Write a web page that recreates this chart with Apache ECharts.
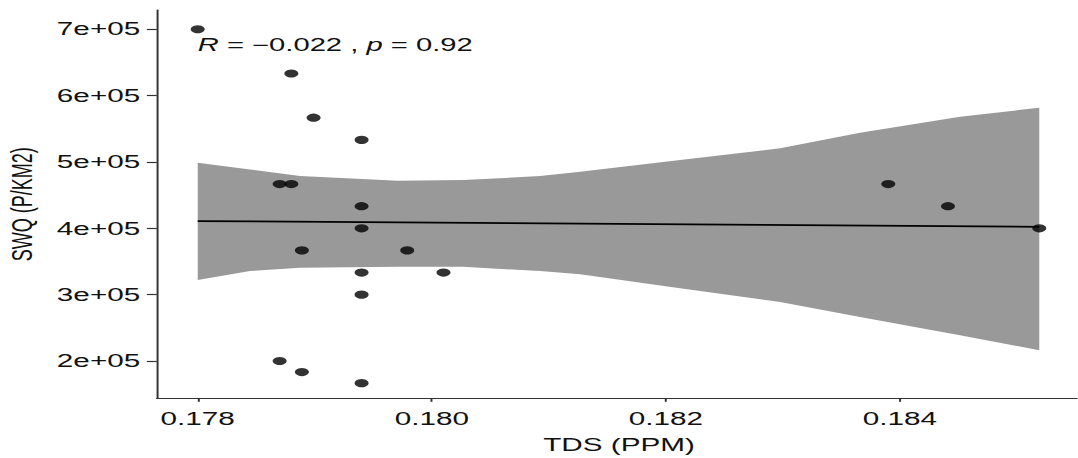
<!DOCTYPE html>
<html>
<head>
<meta charset="utf-8">
<script src="https://cdn.jsdelivr.net/npm/echarts@6/dist/echarts.min.js"></script>
<style>
  html, body { margin: 0; padding: 0; background: #fff; overflow: hidden; width: 1078px; height: 458px; }
  #chart { height: 458px; transform-origin: 0 0; }
</style>
</head>
<body>
<div id="chart"></div>
<script>
// Observations: total dissolved solids vs. SWQ
const tdsValues = [0.1780, 0.1788, 0.17899, 0.1794, 0.1787, 0.1788, 0.1794, 0.1794, 0.17889, 0.17979,
                   0.1794, 0.1801, 0.1794, 0.1787, 0.17889, 0.1794, 0.1839, 0.18441, 0.18519];
const swqValues = [700000, 633333, 566667, 533333, 466667, 466667, 433333, 400000, 366667, 366667,
                   333333, 333333, 300000, 200000, 183333, 166667, 466667, 433333, 400000];

// Linear fit and its 95% confidence band
const fitX = [0.1780, 0.18519];
const fitY = [410900, 402300];
const bandX  = [0.1780, 0.178447, 0.178874, 0.179711, 0.180267, 0.180925, 0.181267, 0.182121, 0.182976, 0.183659, 0.184513, 0.18519];
const bandHi = [498800, 488800, 478700, 471600, 472700, 478700, 485200, 502900, 520500, 544000, 568200, 581700];
const bandLo = [321900, 335500, 340500, 342200, 341900, 335500, 330900, 309800, 289100, 266500, 238900, 216300];

// Axis ticks
const xTicks = [0.178, 0.180, 0.182, 0.184];
const yTicks = [200000, 300000, 400000, 500000, 600000, 700000];

const corrText = '{i|R} = \u22120.022 , {i|p} = 0.92';

// The figure is drawn in a narrower box and widened horizontally
const STRETCH = 1.65;
const W = 1078 / STRETCH;
const el = document.getElementById('chart');
el.style.width = W + 'px';
el.style.transform = 'scaleX(' + STRETCH + ')';

const FONT = '"Liberation Sans", Arial, sans-serif';
const TXT = '#111';
const AXIS = '#333';

const chart = echarts.init(el, null, { renderer: 'svg', width: W, height: 458 });

const bandRows = bandX.map((x, i) => [x, bandLo[i], bandHi[i]]);

chart.setOption({
  animation: false,
  backgroundColor: '#fff',
  grid: { left: 95, top: 10, width: 560.4, height: 388.3, containLabel: false, outerBoundsMode: 'none' },
  xAxis: {
    type: 'value', min: 0.17765, max: 0.18555,
    name: 'TDS (PPM)', nameLocation: 'middle', nameGap: 37,
    nameTextStyle: { fontFamily: FONT, fontSize: 18, color: TXT },
    axisLine: { show: true, onZero: false, lineStyle: { color: AXIS, width: 1.2 } },
    axisTick: { show: true, length: 3.5, customValues: xTicks, lineStyle: { color: AXIS, width: 1.2 } },
    axisLabel: { customValues: xTicks, margin: 11, fontFamily: FONT, fontSize: 18, color: TXT,
                 formatter: v => v.toFixed(3) },
    splitLine: { show: false }
  },
  yAxis: {
    type: 'value', min: 143800, max: 729000,
    name: 'SWQ (P/KM2)', nameLocation: 'middle', nameGap: 73,
    nameTextStyle: { fontFamily: FONT, fontSize: 18, color: TXT },
    axisLine: { show: true, onZero: false, lineStyle: { color: AXIS, width: 1.2 } },
    axisTick: { show: true, length: 6, customValues: yTicks, lineStyle: { color: AXIS, width: 1.2 } },
    axisLabel: { customValues: yTicks, margin: 10, fontFamily: FONT, fontSize: 18, color: TXT,
                 formatter: v => (v / 100000) + 'e+05' },
    splitLine: { show: false }
  },
  series: [
    {
      type: 'custom',
      data: bandRows,
      silent: true,
      z: 1,
      renderItem: function (params, api) {
        if (params.dataIndex !== 0) return { type: 'group', children: [] };
        const upper = bandRows.map(r => api.coord([r[0], r[2]]));
        const lower = bandRows.map(r => api.coord([r[0], r[1]])).reverse();
        return {
          type: 'polygon',
          shape: { points: upper.concat(lower) },
          style: { fill: '#999999', stroke: null }
        };
      }
    },
    {
      type: 'line',
      data: fitX.map((x, i) => [x, fitY[i]]),
      symbol: 'none',
      z: 2,
      lineStyle: { color: '#000', width: 1.7 }
    },
    {
      type: 'scatter',
      data: tdsValues.map((x, i) => [x, swqValues[i]]),
      symbol: 'circle',
      symbolSize: [8.5, 8.2],
      z: 3,
      itemStyle: { color: '#000' }
    }
  ]
});

// Correlation label, anchored at the smallest TDS value
const anchor = chart.convertToPixel({ gridIndex: 0 }, [0.1780, 676000]);
chart.setOption({
  graphic: [{
    type: 'text',
    x: anchor[0], y: anchor[1],
    style: {
      text: corrText,
      rich: { i: { fontStyle: 'italic', fontFamily: FONT, fontSize: 17.7, fill: TXT } },
      fontFamily: FONT, fontSize: 17.7, fill: TXT,
      verticalAlign: 'middle', align: 'left'
    },
    z: 10
  }]
});
</script>
</body>
</html>
